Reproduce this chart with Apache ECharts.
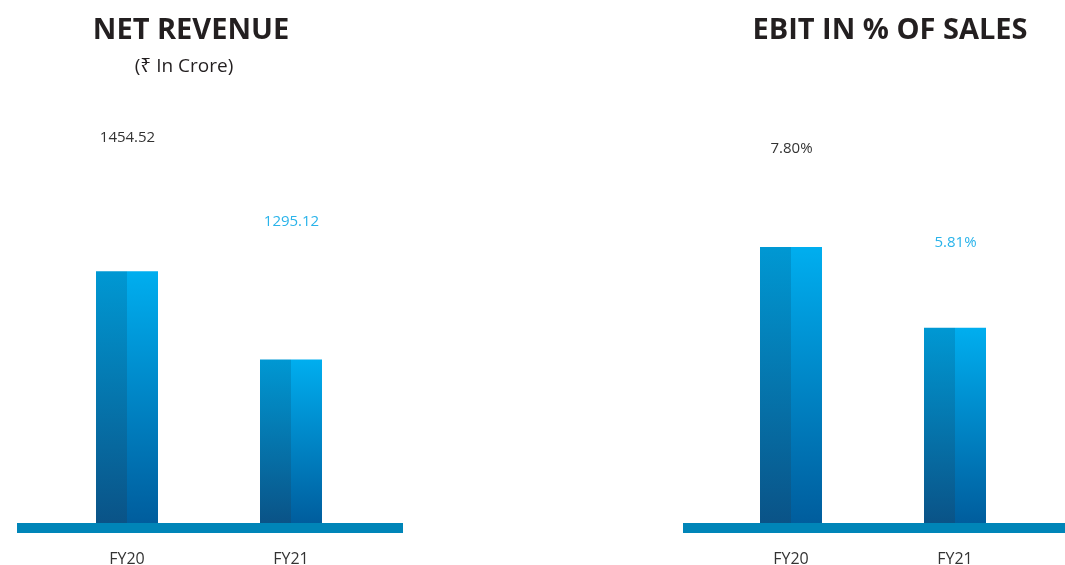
<!DOCTYPE html>
<html lang="en">
<head>
  <meta charset="UTF-8">
  <title>Net Revenue / EBIT</title>
  <script src="https://cdn.jsdelivr.net/npm/echarts@6/dist/echarts.min.js"></script>
  <style>
    html, body { margin: 0; padding: 0; background: #fff; }
    #chart { width: 1065px; height: 565px; }
  </style>
</head>
<body>
<div id="chart"></div>
<script>
  // data
  var years = ['FY20', 'FY21'];
  var revenue = [1454.52, 1295.12];
  var ebitPct = [7.80, 5.81];

  // label styling (not data)
  var labelColors = ['#333333', '#29b3ea'];
  var revLift = [-121, -125];
  var ebitLift = [-86, -73];

  var chart = echarts.init(document.getElementById('chart'));
  var font = '"Open Sans", "Noto Sans", sans-serif';

  function grad(top, bottom) {
    return new echarts.graphic.LinearGradient(0, 0, 0, 1, [
      { offset: 0, color: top },
      { offset: 1, color: bottom }
    ]);
  }

  function labelled(values, lifts, fmt) {
    return values.map(function (v, i) {
      return {
        value: v,
        label: {
          show: true,
          position: 'top',
          offset: [16, lifts[i]],
          color: labelColors[i],
          fontSize: 15,
          fontFamily: font,
          formatter: fmt
        }
      };
    });
  }

  function barPair(axisIdx, values, lifts, fmt) {
    return [
      {
        type: 'bar',
        xAxisIndex: axisIdx,
        yAxisIndex: axisIdx,
        barWidth: 31,
        barGap: '0%',
        itemStyle: { color: grad('#0098d3', '#0a5387') },
        data: labelled(values, lifts, fmt)
      },
      {
        type: 'bar',
        xAxisIndex: axisIdx,
        yAxisIndex: axisIdx,
        barWidth: 31,
        barGap: '0%',
        itemStyle: { color: grad('#00aeef', '#005d9d') },
        data: values
      }
    ];
  }

  var xAxisBase = {
    type: 'category',
    data: years,
    axisLine: { show: false },
    axisTick: { show: false },
    axisLabel: { color: '#333', fontSize: 16, fontFamily: font, margin: 28 }
  };

  var option = {
    animation: false,
    title: [
      { text: 'NET REVENUE', left: 186, textAlign: 'center', top: 11,
        textStyle: { fontSize: 29, fontWeight: 'bold', color: '#231f20', fontFamily: font } },
      { text: '(₹ In Crore)', left: 179, textAlign: 'center', top: 52,
        textStyle: { fontSize: 19, fontWeight: 'normal', color: '#231f20', fontFamily: font } },
      { text: 'EBIT IN % OF SALES', left: 885, textAlign: 'center', top: 11,
        textStyle: { fontSize: 29, fontWeight: 'bold', color: '#231f20', fontFamily: font } }
    ],
    grid: [
      { left: 45, width: 328, top: 246, bottom: 42, outerBoundsMode: 'none' },
      { left: 709, width: 328, top: 239, bottom: 42, outerBoundsMode: 'none' }
    ],
    xAxis: [
      Object.assign({ gridIndex: 0 }, xAxisBase),
      Object.assign({ gridIndex: 1 }, xAxisBase)
    ],
    yAxis: [
      { gridIndex: 0, type: 'value', min: 1000, max: 1500, show: false },
      { gridIndex: 1, type: 'value', min: 1, max: 8, show: false }
    ],
    graphic: [
      { type: 'rect', z: 100, shape: { x: 17, y: 523, width: 386, height: 10 }, style: { fill: '#0085b8' } },
      { type: 'rect', z: 100, shape: { x: 683, y: 523, width: 382, height: 10 }, style: { fill: '#0085b8' } }
    ],
    series: barPair(0, revenue, revLift, function (p) { return p.value.toFixed(2); })
      .concat(barPair(1, ebitPct, ebitLift, function (p) { return p.value.toFixed(2) + '%'; }))
  };

  chart.setOption(option);
</script>
</body>
</html>
